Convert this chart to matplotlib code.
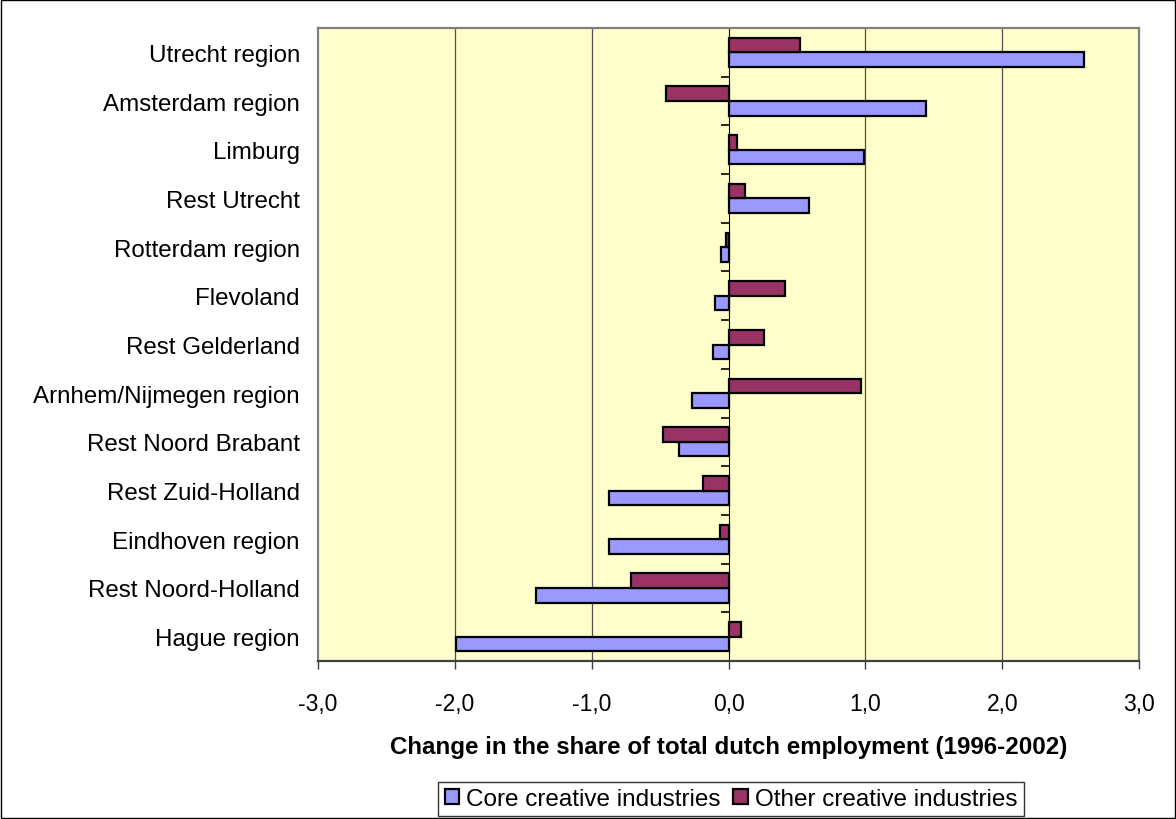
import matplotlib
matplotlib.use("Agg")
import matplotlib.pyplot as plt
import numpy as np

plt.rcParams["font.family"] = ["Liberation Sans", "DejaVu Sans"]

regions = ["Utrecht region", "Amsterdam region", "Limburg", "Rest Utrecht",
           "Rotterdam region", "Flevoland", "Rest Gelderland",
           "Arnhem/Nijmegen region", "Rest Noord Brabant", "Rest Zuid-Holland",
           "Eindhoven region", "Rest Noord-Holland", "Hague region"]
core = [2.60, 1.44, 0.99, 0.59, -0.055, -0.10, -0.115, -0.27, -0.36, -0.87,
        -0.87, -1.41, -1.99]
other = [0.52, -0.46, 0.06, 0.12, -0.015, 0.41, 0.26, 0.97, -0.48, -0.19,
         -0.06, -0.71, 0.09]
xticks = [-3, -2, -1, 0, 1, 2, 3]
xlabels = ["-3,0", "-2,0", "-1,0", "0,0", "1,0", "2,0", "3,0"]

C_CORE = "#9999FF"
C_OTHER = "#993366"

fig = plt.figure(figsize=(11.76, 8.2), dpi=100)
ax = fig.add_axes([0.2704, 0.1927, 0.6982, 0.7719])
ax.set_facecolor("#FFFFCC")

y = np.arange(len(regions))
h = 0.3
ax.barh(y + h / 2, core, height=h, color=C_CORE, edgecolor="black", lw=1.6,
        label="Core creative industries", zorder=3)
ax.barh(y - h / 2, other, height=h, color=C_OTHER, edgecolor="black", lw=1.6,
        label="Other creative industries", zorder=3)

ax.set_xlim(-3, 3)
ax.set_ylim(len(regions) - 0.5, -0.5)
ax.set_xticks(xticks)
ax.set_xticklabels(xlabels, fontsize=16.5)
ax.set_yticks(y)
ax.set_yticklabels(regions, fontsize=17.4)
ax.tick_params(axis="y", length=0, pad=13)
ax.tick_params(axis="x", direction="out", length=6, width=1, color="#404040", pad=16)
for v in xticks[1:-1]:
    if v != 0:
        ax.axvline(v, color="#505050", lw=0.9, zorder=1)
for s in ax.spines.values():
    s.set_color("#808080")
    s.set_linewidth(1.6)
ax.spines["bottom"].set_color("#404040")

# category axis crossing at zero
sec = ax.secondary_yaxis(0.5)
sec.set_yticks(np.arange(len(regions) + 1) - 0.5)
sec.set_yticklabels([])
sec.tick_params(axis="y", direction="in", length=6, width=1.2, color="black")
sec.spines["left"].set_color("black")
sec.spines["left"].set_linewidth(1.4)
sec.spines["left"].set_zorder(4)

ax.set_xlabel("Change in the share of total dutch employment (1996-2002)",
              fontsize=17.4, fontweight="bold", labelpad=15)

handles, labels = ax.get_legend_handles_labels()
leg = fig.legend(handles, labels, loc="center", bbox_to_anchor=(0.6216, 0.0244),
                 ncol=2, fontsize=17.5, frameon=True, fancybox=False,
                 handlelength=0.6, handleheight=0.6, handletextpad=0.3,
                 columnspacing=0.5, borderpad=0.25, borderaxespad=0)
leg.get_frame().set_edgecolor("black")
leg.get_frame().set_linewidth(1)

fig.patches.append(plt.Rectangle((0.001, 0.001), 0.998, 0.998, transform=fig.transFigure,
                                 fill=False, edgecolor="black", lw=1))

fig.savefig("out.png", dpi=100)
